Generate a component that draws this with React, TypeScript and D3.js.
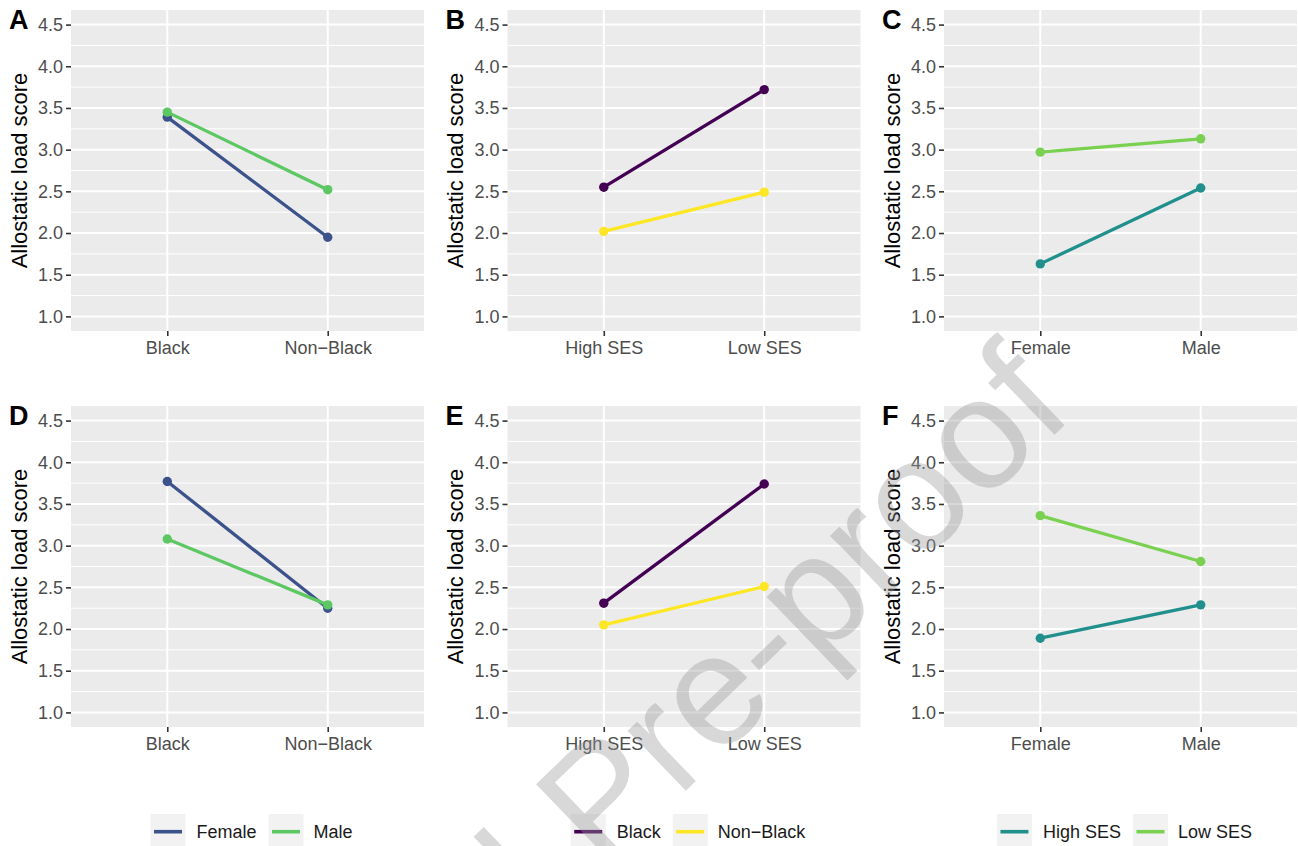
import React, { useEffect, useRef } from "react";
import * as d3 from "d3";

const W = 1298;
const H = 846;

// x categories
const raceCats = ["Black", "Non−Black"];
const sesCats = ["High SES", "Low SES"];
const sexCats = ["Female", "Male"];

// A and D: race on x, lines by sex
const sexNames = ["Female", "Male"];
const sexColors = ["#3B528B", "#5DC863"];
const aFemale = [3.39, 1.95];
const aMale = [3.45, 2.52];
const dFemale = [3.77, 2.25];
const dMale = [3.08, 2.29];

// B and E: SES on x, lines by race
const raceNames = ["Black", "Non−Black"];
const raceColors = ["#440154", "#FDE725"];
const bBlack = [2.55, 3.72];
const bNonBlack = [2.02, 2.49];
const eBlack = [2.31, 3.74];
const eNonBlack = [2.05, 2.51];

// C and F: sex on x, lines by SES
const sesNames = ["High SES", "Low SES"];
const sesColors = ["#21908C", "#7AD151"];
const cHigh = [1.63, 2.54];
const cLow = [2.97, 3.13];
const fHigh = [1.89, 2.29];
const fLow = [3.36, 2.81];

const yTicks = [1.0, 1.5, 2.0, 2.5, 3.0, 3.5, 4.0, 4.5];
const yMinor = [1.25, 1.75, 2.25, 2.75, 3.25, 3.75, 4.25];

const panels = [
  { tag: "A", col: 0, row: 0, cats: raceCats, names: sexNames, colors: sexColors, series: [aFemale, aMale] },
  { tag: "B", col: 1, row: 0, cats: sesCats, names: raceNames, colors: raceColors, series: [bBlack, bNonBlack] },
  { tag: "C", col: 2, row: 0, cats: sexCats, names: sesNames, colors: sesColors, series: [cHigh, cLow] },
  { tag: "D", col: 0, row: 1, cats: raceCats, names: sexNames, colors: sexColors, series: [dFemale, dMale] },
  { tag: "E", col: 1, row: 1, cats: sesCats, names: raceNames, colors: raceColors, series: [eBlack, eNonBlack] },
  { tag: "F", col: 2, row: 1, cats: sexCats, names: sesNames, colors: sesColors, series: [fHigh, fLow] },
];

const colLeft = [71, 507.5, 944];
const rowTop = [10, 406];
const pw = 353;
const ph = 321;
const font = "'Liberation Sans', Arial, Helvetica, sans-serif";

export default function App() {
  const ref = useRef<SVGSVGElement>(null);

  useEffect(() => {
    const svg = d3.select(ref.current);
    svg.selectAll("*").remove();

    panels.forEach((p) => {
      const left = colLeft[p.col];
      const top = rowTop[p.row];
      const x = d3.scalePoint<string>().domain(p.cats).range([left, left + pw]).padding(0.6);
      const y = d3.scaleLinear().domain([0.825, 4.675]).range([top + ph, top]);
      const g = svg.append("g");

      g.append("rect").attr("x", left).attr("y", top).attr("width", pw).attr("height", ph).attr("fill", "#EBEBEB");

      g.selectAll(".minor").data(yMinor).enter().append("line")
        .attr("x1", left).attr("x2", left + pw)
        .attr("y1", (d) => y(d)).attr("y2", (d) => y(d))
        .attr("stroke", "#fff").attr("stroke-width", 1);
      g.selectAll(".major").data(yTicks).enter().append("line")
        .attr("x1", left).attr("x2", left + pw)
        .attr("y1", (d) => y(d)).attr("y2", (d) => y(d))
        .attr("stroke", "#fff").attr("stroke-width", 2);
      g.selectAll(".vmajor").data(p.cats).enter().append("line")
        .attr("x1", (d) => x(d)!).attr("x2", (d) => x(d)!)
        .attr("y1", top).attr("y2", top + ph)
        .attr("stroke", "#fff").attr("stroke-width", 2);

      // y axis
      const yAxis = d3.axisLeft(y).tickValues(yTicks).tickFormat(d3.format(".1f")).tickSize(5).tickPadding(3);
      const ya = g.append("g").attr("transform", `translate(${left},0)`).call(yAxis);
      ya.select(".domain").remove();
      ya.selectAll("line").attr("stroke", "#333").attr("stroke-width", 1.6);
      ya.selectAll("text").attr("fill", "#4D4D4D").attr("font-size", 18).attr("font-family", font);

      // x axis
      const xAxis = d3.axisBottom(x).tickSize(5).tickPadding(5);
      const xa = g.append("g").attr("transform", `translate(0,${top + ph})`).call(xAxis);
      xa.select(".domain").remove();
      xa.selectAll("line").attr("stroke", "#333").attr("stroke-width", 1.6);
      xa.selectAll("text").attr("fill", "#4D4D4D").attr("font-size", 18).attr("font-family", font);

      // axis title
      g.append("text")
        .attr("transform", `translate(${left - 44.5},${top + ph / 2}) rotate(-90)`)
        .attr("text-anchor", "middle")
        .attr("font-size", 22).attr("font-family", font).attr("fill", "#000")
        .text("Allostatic load score");

      // panel tag
      g.append("text")
        .attr("x", left - 62).attr("y", top + 19)
        .attr("font-size", 27).attr("font-weight", "bold").attr("font-family", font).attr("fill", "#000")
        .text(p.tag);

      const line = d3.line<number>().x((_, i) => x(p.cats[i])!).y((d) => y(d));
      p.series.forEach((vals, si) => {
        g.append("path").attr("d", line(vals)).attr("fill", "none")
          .attr("stroke", p.colors[si]).attr("stroke-width", 3.3);
        g.selectAll(`.pt${si}`).data(vals).enter().append("circle")
          .attr("cx", (_, i) => x(p.cats[i])!).attr("cy", (d) => y(d))
          .attr("r", 4.7).attr("fill", p.colors[si]);
      });
    });

    // legends, one per column
    panels.filter((p) => p.row === 0).forEach((p) => {
      const cx = colLeft[p.col] + pw / 2 + 4;
      const lg = svg.append("g");
      const texts = p.names.map((n) =>
        lg.append("text").attr("font-size", 18).attr("font-family", font).attr("fill", "#1A1A1A")
          .attr("y", 838).text(n)
      );
      const widths = texts.map((t) => (t.node() as SVGTextElement).getComputedTextLength());
      const key = 35;
      const total = key + 11 + widths[0] + 12 + key + 10 + widths[1];
      let xPos = cx - total / 2;
      p.names.forEach((_, i) => {
        lg.append("rect").attr("x", xPos).attr("y", 814).attr("width", key).attr("height", key).attr("fill", "#F2F2F2");
        lg.append("line").attr("x1", xPos + 3.5).attr("x2", xPos + key - 3.5)
          .attr("y1", 831.7).attr("y2", 831.7)
          .attr("stroke", p.colors[i]).attr("stroke-width", 3.6);
        xPos += key + (i === 0 ? 11 : 10);
        texts[i].attr("x", xPos).raise();
        xPos += widths[i] + 12;
      });
    });

    // watermark
    svg.append("text")
      .attr("transform", "translate(1076,414) rotate(-44)")
      .attr("text-anchor", "end")
      .attr("font-size", 158).attr("font-family", font)
      .attr("fill", "#999").attr("fill-opacity", 0.38)
      .text("Journal Pre-proof");
  }, []);

  return (
    <svg ref={ref} width={W} height={H} style={{ position: "absolute", left: 0, top: 0, background: "#fff" }} />
  );
}
